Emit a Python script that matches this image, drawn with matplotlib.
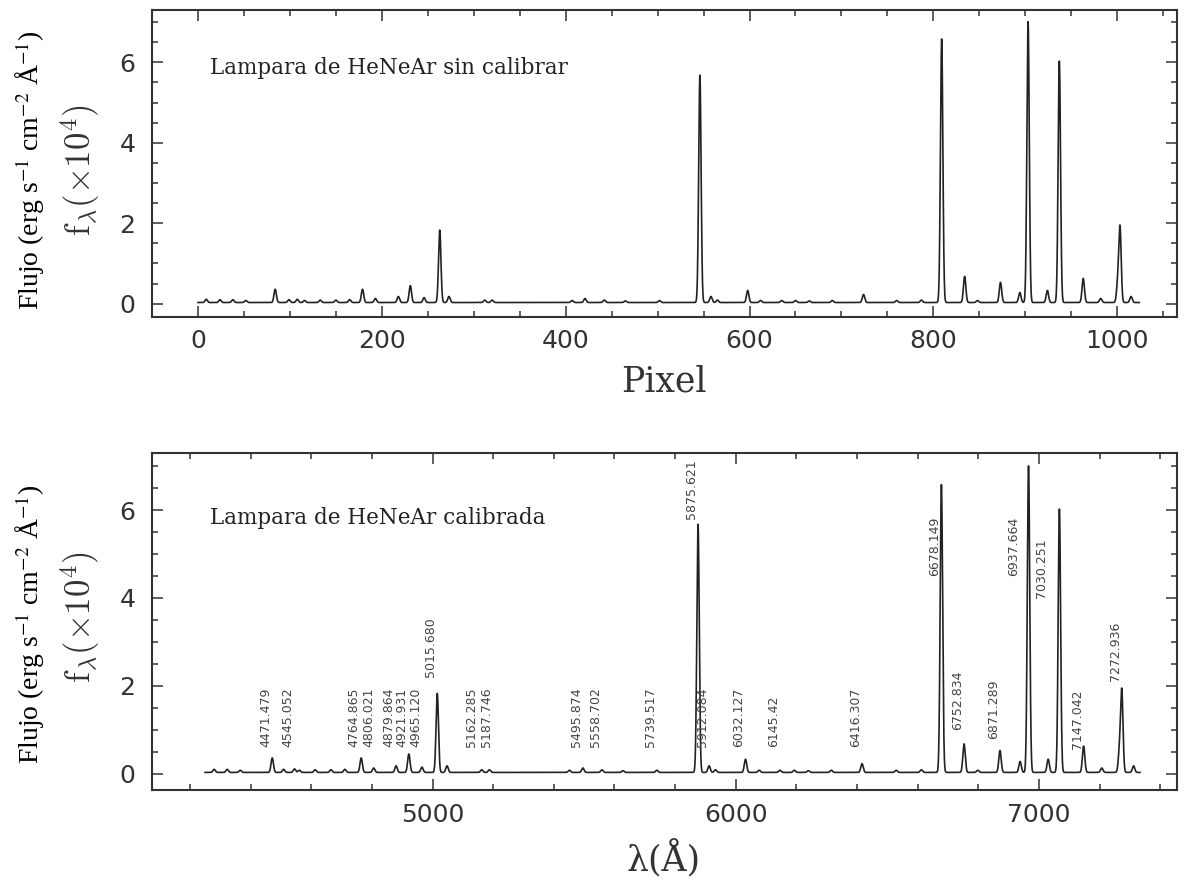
import numpy as np
import matplotlib
matplotlib.use("Agg")
import matplotlib.pyplot as plt
from matplotlib.ticker import MultipleLocator

# Lineas de la lampara HeNeAr: longitud de onda (A), pixel y flujo de pico (x1e4)
line_wl = [4234.0, 4280.0, 4323.0, 4366.0, 4471.479, 4509.0, 4545.052, 4561.0,
           4613.0, 4665.0, 4711.0, 4764.865, 4806.021, 4879.864, 4921.931,
           4965.12, 5015.68, 5047.74, 5162.285, 5187.746, 5451.65, 5495.874,
           5558.702, 5628.0, 5739.517, 5875.621, 5912.084, 5933.0, 6032.127,
           6077.0, 6145.42, 6193.0, 6239.0, 6315.0, 6416.307, 6529.0, 6612.0,
           6678.149, 6752.834, 6798.0, 6871.289, 6937.664, 6965.431, 7030.251,
           7067.218, 7147.042, 7206.98, 7265.17, 7272.936, 7311.716]
line_px = [9, 24, 38, 52, 84, 99, 108, 116,
           133, 150, 165, 179, 193, 218, 231,
           246, 263, 273, 312, 320, 407, 421,
           442, 465, 502, 546, 558, 565, 598,
           612, 635, 650, 665, 690, 724, 760, 787,
           809, 834, 848, 873, 894, 903, 924,
           937, 963, 982, 1000.5, 1003, 1015]
line_flux = [0.08, 0.07, 0.07, 0.05, 0.33, 0.07, 0.08, 0.05,
             0.06, 0.06, 0.07, 0.33, 0.1, 0.15, 0.42,
             0.12, 1.8, 0.15, 0.06, 0.06, 0.05, 0.1,
             0.06, 0.04, 0.05, 5.65, 0.15, 0.06, 0.3,
             0.05, 0.05, 0.05, 0.04, 0.05, 0.2, 0.05, 0.06,
             6.55, 0.65, 0.05, 0.5, 0.25, 6.98, 0.3,
             6.0, 0.6, 0.1, 0.45, 1.85, 0.15]
baseline = 0.03

# Etiquetas del panel calibrado: texto, posicion en A y altura (inicio del texto)
label_txt = ["4471.479", "4545.052", "4764.865", "4806.021", "4879.864",
             "4921.931", "4965.120", "5015.680", "5162.285", "5187.746",
             "5495.874", "5558.702", "5739.517", "5875.621", "5912.084",
             "6032.127", "6145.42", "6416.307", "6678.149", "6752.834",
             "6871.289", "6937.664", "7030.251", "7147.042", "7272.936"]
label_x = [4471, 4545, 4762, 4810, 4879,
           4922, 4965, 5015, 5150, 5200,
           5496, 5559, 5740, 5876, 5912,
           6032, 6145, 6416, 6678, 6753,
           6871, 6938, 7030, 7147, 7273]
label_y = [0.61, 0.61, 0.61, 0.61, 0.61,
           0.61, 0.61, 2.2, 0.61, 0.61,
           0.61, 0.61, 0.61, 5.8, 0.61,
           0.61, 0.61, 0.61, 4.5, 1.0,
           0.8, 4.5, 4.0, 0.57, 2.1]

sigma_px = 1.3
disp = 3.056  # A por pixel


def espectro(x, centros, sigma):
    f = np.full_like(x, baseline)
    for c, h in zip(centros, line_flux):
        f += h * np.exp(-0.5 * ((x - c) / sigma) ** 2)
    return f


pix = np.linspace(0, 1024, 8193)
wl = np.linspace(4250, 7333, 8000)
f_pix = espectro(pix, line_px, sigma_px)
f_wl = espectro(wl, line_wl, sigma_px * disp)

W, H = 1190, 884
fig = plt.figure(figsize=(W / 100, H / 100), dpi=100)
ax1 = fig.add_axes([152 / W, 1 - 317 / H, 1025 / W, 307 / H])
ax2 = fig.add_axes([152 / W, 1 - 790 / H, 1025 / W, 337 / H])

col = "#222222"
ax1.plot(pix, f_pix, color=col, lw=1.2)
ax2.plot(wl, f_wl, color=col, lw=1.2)

ax1.set_xlim(-50, 1065)
ax1.set_ylim(-0.33, 7.3)
ax2.set_xlim(4075, 7455)
ax2.set_ylim(-0.37, 7.3)

ax1.xaxis.set_major_locator(MultipleLocator(200))
ax1.xaxis.set_minor_locator(MultipleLocator(50))
ax2.xaxis.set_major_locator(MultipleLocator(1000))
ax2.xaxis.set_minor_locator(MultipleLocator(200))
for ax in (ax1, ax2):
    ax.yaxis.set_major_locator(MultipleLocator(2))
    ax.yaxis.set_minor_locator(MultipleLocator(0.5))
    ax.tick_params(which="both", direction="in", top=True, right=True,
                   colors="#333333", labelsize=18, width=1.1)
    ax.tick_params(which="major", length=8)
    ax.tick_params(which="minor", length=4)
    ax.tick_params(axis="x", pad=9)
    ax.tick_params(axis="y", pad=12)
    for s in ax.spines.values():
        s.set_linewidth(1.5)
        s.set_color("#333333")

ax1.text(0.057, 0.81, "Lampara de HeNeAr sin calibrar", transform=ax1.transAxes,
         family="DejaVu Serif", fontsize=15.5, color="#222222", va="center")
ax2.text(0.057, 0.807, "Lampara de HeNeAr calibrada", transform=ax2.transAxes,
         family="DejaVu Serif", fontsize=15.5, color="#222222", va="center")

for t, x, y in zip(label_txt, label_x, label_y):
    ax2.text(x, y, t, rotation=90, ha="right", va="bottom",
             fontsize=9, color="#444444")

# etiquetas de ejes
plt.rcParams["mathtext.fontset"] = "stix"
flujo = r"Flujo (erg s$^{\mathrm{-1}}$ cm$^{\mathrm{-2}}$ Å$^{\mathrm{-1}}$)"
for yc in (170, 624):
    fig.text(30 / W, 1 - yc / H, flujo, rotation=90, ha="center", va="center",
             family="Liberation Serif", fontsize=20, color="black")
plt.rcParams["mathtext.fontset"] = "cm"
for yc in (170, 617):
    fig.text(80 / W, 1 - yc / H, r"$\mathrm{f}_\lambda(\times10^4)$", rotation=90,
             ha="center", va="center", fontsize=25, color="#333333")

fig.text(664 / W, 1 - 382 / H, "Pixel", ha="center", va="center",
         family="DejaVu Serif", fontsize=25, color="#333333")
fig.text(664 / W, 1 - 858 / H, "λ(Å)", ha="center", va="center",
         family="DejaVu Serif", fontsize=25, color="#333333")

fig.savefig("out.png", dpi=100)
